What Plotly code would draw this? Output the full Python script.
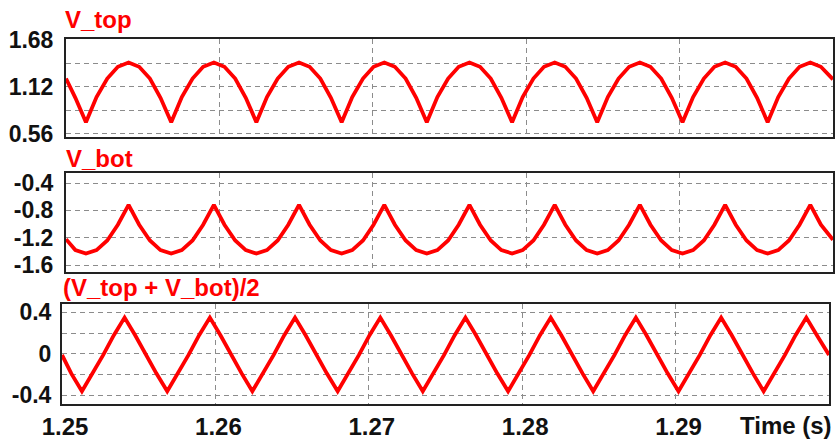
import plotly.graph_objects as go

# ---------------- data ----------------
time_s = [
    1.25000, 1.25061,
    1.25130, 1.25199, 1.25269, 1.25338, 1.25408, 1.25477, 1.25547, 1.25616,
    1.25686, 1.25755, 1.25825, 1.25894, 1.25964, 1.26033, 1.26103, 1.26172,
    1.26241, 1.26310, 1.26380, 1.26449, 1.26519, 1.26588, 1.26658, 1.26727,
    1.26797, 1.26866, 1.26936, 1.27005, 1.27075, 1.27144, 1.27214, 1.27283,
    1.27352, 1.27421, 1.27491, 1.27560, 1.27630, 1.27699, 1.27769, 1.27838,
    1.27908, 1.27977, 1.28047, 1.28116, 1.28186, 1.28255, 1.28325, 1.28394,
    1.28463, 1.28532, 1.28602, 1.28671, 1.28741, 1.28810, 1.28880, 1.28949,
    1.29019, 1.29088, 1.29158, 1.29227, 1.29297, 1.29366, 1.29436, 1.29505,
    1.29574, 1.29643, 1.29713, 1.29782, 1.29852, 1.29921, 1.30000,
]

v_top = [
    1.22, 0.99,
    0.70, 1.00, 1.22, 1.36, 1.41, 1.36, 1.22, 0.99,
    0.70, 1.00, 1.22, 1.36, 1.41, 1.36, 1.22, 0.99,
    0.70, 1.00, 1.22, 1.36, 1.41, 1.36, 1.22, 0.99,
    0.70, 1.00, 1.22, 1.36, 1.41, 1.36, 1.22, 0.99,
    0.70, 1.00, 1.22, 1.36, 1.41, 1.36, 1.22, 0.99,
    0.70, 1.00, 1.22, 1.36, 1.41, 1.36, 1.22, 0.99,
    0.70, 1.00, 1.22, 1.36, 1.41, 1.36, 1.22, 0.99,
    0.70, 1.00, 1.22, 1.36, 1.41, 1.36, 1.22, 0.99,
    0.70, 1.00, 1.22, 1.36, 1.41, 1.36, 1.21,
]

v_bot = [
    -1.22, -1.38,
    -1.43, -1.38, -1.24, -1.01, -0.72, -1.01, -1.24, -1.38,
    -1.43, -1.38, -1.24, -1.01, -0.72, -1.01, -1.24, -1.38,
    -1.43, -1.38, -1.24, -1.01, -0.72, -1.01, -1.24, -1.38,
    -1.43, -1.38, -1.24, -1.01, -0.72, -1.01, -1.24, -1.38,
    -1.43, -1.38, -1.24, -1.01, -0.72, -1.01, -1.24, -1.38,
    -1.43, -1.38, -1.24, -1.01, -0.72, -1.01, -1.24, -1.38,
    -1.43, -1.38, -1.24, -1.01, -0.72, -1.01, -1.24, -1.38,
    -1.43, -1.38, -1.24, -1.01, -0.72, -1.01, -1.24, -1.38,
    -1.43, -1.38, -1.24, -1.01, -0.72, -1.01, -1.23,
]

v_avg = [
    -0.01, -0.19,
    -0.36, -0.19, -0.01, 0.18, 0.35, 0.18, -0.01, -0.19,
    -0.36, -0.19, -0.01, 0.18, 0.35, 0.18, -0.01, -0.19,
    -0.36, -0.19, -0.01, 0.18, 0.35, 0.18, -0.01, -0.19,
    -0.36, -0.19, -0.01, 0.18, 0.35, 0.18, -0.01, -0.19,
    -0.36, -0.19, -0.01, 0.18, 0.35, 0.18, -0.01, -0.19,
    -0.36, -0.19, -0.01, 0.18, 0.35, 0.18, -0.01, -0.19,
    -0.36, -0.19, -0.01, 0.18, 0.35, 0.18, -0.01, -0.19,
    -0.36, -0.19, -0.01, 0.18, 0.35, 0.18, -0.01, -0.19,
    -0.36, -0.19, -0.01, 0.18, 0.35, 0.18, -0.01,
]

panel_titles = ["V_top", "V_bot", "(V_top + V_bot)/2"]
x_tick_vals = [1.25, 1.26, 1.27, 1.28, 1.29]
x_tick_text = ["1.25", "1.26", "1.27", "1.28", "1.29"]
y1_grid = [0.56, 0.84, 1.12, 1.40, 1.68]
y1_text = ["0.56", "", "1.12", "", "1.68"]
y2_grid = [-1.6, -1.2, -0.8, -0.4]
y2_text = ["-1.6", "-1.2", "-0.8", "-0.4"]
y3_grid = [-0.4, -0.2, 0.0, 0.2, 0.4]
y3_text = ["-0.4", "", "0", "", "0.4"]

# ---------------- figure ----------------
W, H = 836, 445
RED = "#ff0000"
FONT = "Liberation Sans, Arial, sans-serif"

def xd(a, b):
    return [a / W, b / W]

def yd(top, bottom):
    return [1 - bottom / H, 1 - top / H]

fig = go.Figure()
line = dict(color=RED, width=3.8)
fig.add_trace(go.Scatter(x=time_s, y=v_top, mode="lines", line=line, xaxis="x", yaxis="y"))
fig.add_trace(go.Scatter(x=time_s, y=v_bot, mode="lines", line=line, xaxis="x2", yaxis="y2"))
fig.add_trace(go.Scatter(x=time_s, y=v_avg, mode="lines", line=line, xaxis="x3", yaxis="y3"))

tickfont = dict(family=FONT, size=23, color="#111111", weight="bold")
grid = dict(showgrid=True, gridcolor="#8c8c8c", gridwidth=1.3, griddash="5px,4px",
            zeroline=False, showline=True, mirror=True, linecolor="#222222",
            linewidth=2, ticks="", automargin=False)

xcommon = dict(range=[1.25, 1.30], **grid)
fig.update_layout(
    xaxis=dict(domain=xd(66, 833), anchor="y", tickvals=x_tick_vals[1:],
               showticklabels=False, **xcommon),
    xaxis2=dict(domain=xd(66, 833), anchor="y2", tickvals=x_tick_vals[1:],
                showticklabels=False, **xcommon),
    xaxis3=dict(domain=xd(62, 829), anchor="y3", tickvals=x_tick_vals,
                ticktext=x_tick_text, tickfont=dict(family=FONT, size=24, color="#111111", weight="bold"),
                ticklabelstandoff=0, ticklabelshift=3, **xcommon),
    yaxis=dict(domain=yd(39, 137), anchor="x", range=[0.524, 1.69],
               tickvals=y1_grid, ticktext=y1_text, tickfont=tickfont,
               ticklabelstandoff=6, **grid),
    yaxis2=dict(domain=yd(173, 272), anchor="x2", range=[-1.70, -0.254],
                tickvals=y2_grid, ticktext=y2_text, tickfont=tickfont,
                ticklabelstandoff=6, **grid),
    yaxis3=dict(domain=yd(304, 404), anchor="x3", range=[-0.483, 0.481],
                tickvals=y3_grid, ticktext=y3_text, tickfont=tickfont,
                ticklabelstandoff=4, **grid),
    width=W, height=H, margin=dict(l=0, r=0, t=0, b=0, autoexpand=False),
    paper_bgcolor="white", plot_bgcolor="white", showlegend=False,
)

title_font = dict(family=FONT, size=24, color=RED, weight="bold")
for text, xpx, ypx in [(panel_titles[0], 63, 19), (panel_titles[1], 64, 158), (panel_titles[2], 61, 287)]:
    fig.add_annotation(text=text, xref="paper", yref="paper", x=xpx / W, y=1 - ypx / H,
                       xanchor="left", yanchor="middle", showarrow=False, font=title_font)

fig.add_annotation(text="Time (s)", xref="paper", yref="paper", x=834 / W, y=1 - 425 / H,
                   xanchor="right", yanchor="middle", showarrow=False,
                   font=dict(family=FONT, size=24, color="#111111", weight="bold"))

fig.write_html("out.html")
